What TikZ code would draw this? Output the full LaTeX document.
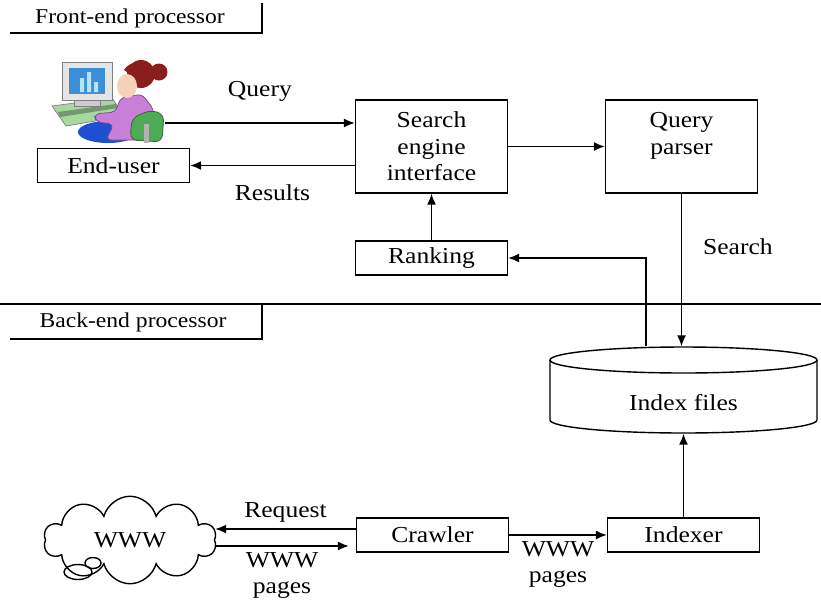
\documentclass[tikz,border=0pt]{standalone}
\usepackage{fontspec}
\setmainfont[FakeStretch=1.12]{Liberation Serif}
\usepackage{tikz}
\usetikzlibrary{calc,arrows.meta,shapes.symbols}
\definecolor{screenblue}{HTML}{3C8FD6}
\definecolor{sweater}{HTML}{C77FD8}
\definecolor{pants}{HTML}{1F4FD1}
\definecolor{hair}{HTML}{8A1E1E}
\definecolor{skin}{HTML}{F6D2B8}
\definecolor{desk}{HTML}{A6D8A0}
\definecolor{chair}{HTML}{4DAA55}

\begin{document}
\begin{tikzpicture}[x=0.02cm, y=-0.02cm, thick, >={Latex[length=2.2mm,width=1.8mm]},
  every node/.style = {font=\fontsize{13}{15}\selectfont},
  node/.style = {draw, minimum width=3.04cm, minimum height=0.68cm, inner sep=0pt},
  tall/.style = {node, minimum height=1.86cm, align=center}]
  \useasboundingbox (0,0) rectangle (821,599);

  % the end-user at her desk
  \fill[desk, draw=gray, thin] (52,106) -- (112,98) -- (124,116) -- (66,126) -- cycle;
  \fill[desk!70!black] (58,112) -- (116,104) -- (118,108) -- (60,117) -- cycle;
  \fill[gray!20, draw=gray, thin] (62,62) rectangle (112,100);
  \fill[screenblue] (69,68) rectangle (105,94);
  \fill[cyan!30] (80,78) rectangle (84,92) (87,72) rectangle (91,92) (94,82) rectangle (98,92);
  \fill[gray!40, draw=gray, thin] (74,100) rectangle (100,106);
  \fill[pants] (108,132) ellipse [x radius=0.6cm, y radius=0.22cm];
  \fill[sweater, draw=sweater!60!black, thin, rounded corners=3pt] (120,98) -- (142,94) -- (154,110) -- (150,140) -- (106,140) -- (114,124) -- (96,122) -- (94,114) -- (116,112) -- cycle;
  \fill[chair, draw=chair!60!black, thin, rounded corners=4pt] (130,140) -- (132,118) -- (150,110) -- (164,114) -- (162,142) -- cycle;
  \fill[gray!60] (144,124) rectangle (149,143);
  \fill[hair] (141,74) circle [radius=0.28cm] (159,72) circle [radius=0.17cm];
  \fill[skin] (127,86) ellipse [x radius=0.2cm, y radius=0.24cm];
  \fill[hair] (124,70) .. controls (130,60) and (145,60) .. (150,72) -- (136,78) -- cycle;
  \coordinate (user) at (165,123);

  \node[node] (enduser) at (113.5,165.5) {End-user};
  \node[tall] (sei) at (431.5,146.5) {Search\\engine\\interface};
  \node[tall] (qp) at (681.5,146.5) {Query\\parser\\~};
  \node[node] (ranking) at (431.5,258) {Ranking};
  \node[minimum width=5.34cm, minimum height=1.72cm] (idx) at (683.5,390) {};
  \node[node] (crawler) at (432.5,535) {Crawler};
  \node[node] (indexer) at (683.5,535) {Indexer};
  \node[cloud, draw, cloud puffs=10, aspect=2, minimum width=3.45cm, minimum height=1.75cm] (www) at (130,540) {WWW};
  \draw (78,572) ellipse [x radius=0.28cm, y radius=0.15cm];
  \draw (93,563) ellipse [x radius=0.16cm, y radius=0.11cm];

  % index files drum
  \draw (550,360) -- (550,420) arc[start angle=180, end angle=360, x radius=2.67cm, y radius=0.26cm] -- (817,360);
  \draw (683.5,360) ellipse [x radius=2.67cm, y radius=0.26cm];
  \node at (683.5,403) {Index files};

  % front-end / back-end frames
  \draw (262,3) -- (262,33) -- (10,33);
  \node[font=\fontsize{12}{14}\selectfont] at (130,18) {Front-end processor};
  \draw (0,304) -- (821,304);
  \draw (262,304) -- (262,339) -- (10,339);
  \node[font=\fontsize{12}{14}\selectfont] at (133,322) {Back-end processor};

  \draw[->] (user) -- (sei.west |- user) node[pos=0.5, above=0.3cm]{Query};
  \draw[->] (sei.west |- enduser.east) -- (enduser.east) node[pos=0.5, below=0.25cm]{Results};
  \draw[->] (sei.east) -- (qp.west);
  \draw[->] (ranking.north) -- (sei.south);
  \draw[->] (qp.south) -- (qp.south |- idx.north) node[pos=0.35, right=0.3cm]{Search};
  \draw[->] ([xshift=-0.75cm]idx.north) |- (ranking.east);
  \draw[->] (indexer.north) -- (idx.south);
  \draw[->] ([yshift=0.12cm]crawler.west) -- ([yshift=0.12cm]crawler.west -| www.east) node[pos=0.5, above]{Request};
  \draw[->] ([yshift=-0.22cm]crawler.west -| www.east) -- ([yshift=-0.22cm, xshift=-0.14cm]crawler.west) node[pos=0.5, below, align=center]{WWW\\pages};
  \draw[->] (crawler.east) -- (indexer.west) node[pos=0.5, below, align=center]{WWW\\pages};
\end{tikzpicture}
\end{document}
